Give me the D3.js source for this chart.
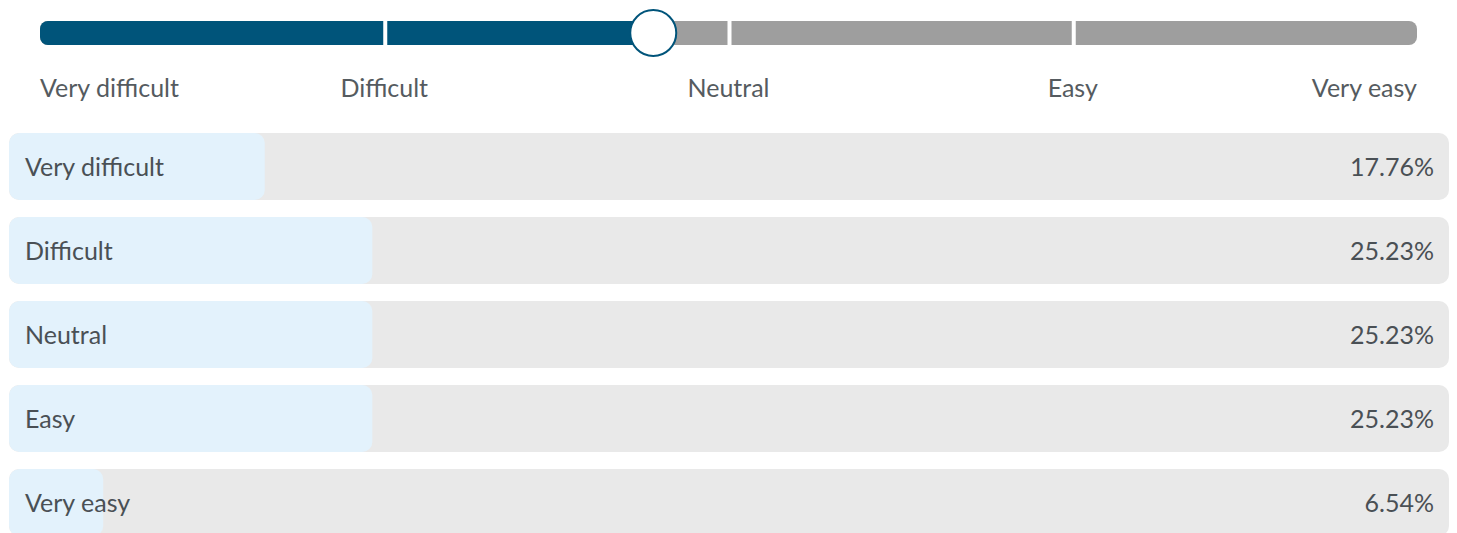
<!DOCTYPE html>
<html>
<head>
<meta charset="utf-8">
<script src="https://cdn.jsdelivr.net/npm/d3@7"></script>
<style>
  body { margin: 0; background: #fff; }
  svg { display: block; font-family: Lato, "Open Sans", sans-serif; }
</style>
</head>
<body>
<div id="chart"></div>
<script>
const width = 1457;
const height = 533;

// answers and share of responses
const categories = ["Very difficult", "Difficult", "Neutral", "Easy", "Very easy"];
const scores = [1, 2, 3, 4, 5];
const percents = [17.76, 25.23, 25.23, 25.23, 6.54];

// mean score for the slider knob
const meanScore = d3.sum(scores, (s, i) => s * percents[i]) / d3.sum(percents);

const svg = d3.select("#chart")
  .append("svg")
  .attr("width", width)
  .attr("height", height);

// slider
const x = d3.scaleLinear().domain([1, 5]).range([40, 1417]);
const trackY = 21, trackH = 24;

svg.append("rect")
  .attr("x", x(1)).attr("y", trackY)
  .attr("width", x(5) - x(1)).attr("height", trackH)
  .attr("rx", 8)
  .attr("fill", "#9e9e9e");

svg.append("clipPath").attr("id", "trackclip")
  .append("rect")
  .attr("x", x(1)).attr("y", trackY)
  .attr("width", x(5) - x(1)).attr("height", trackH)
  .attr("rx", 8);

svg.append("rect")
  .attr("clip-path", "url(#trackclip)")
  .attr("x", x(1)).attr("y", trackY)
  .attr("width", x(meanScore) - x(1)).attr("height", trackH)
  .attr("fill", "#00547a");

// white separators between segments
svg.selectAll(".sep")
  .data(scores.slice(1, 4))
  .enter().append("rect")
  .attr("class", "sep")
  .attr("x", d => x(d) - 1)
  .attr("y", trackY)
  .attr("width", 4)
  .attr("height", trackH)
  .attr("fill", "#fff");

svg.append("circle")
  .attr("cx", x(meanScore) + 2)
  .attr("cy", trackY + trackH / 2)
  .attr("r", 23)
  .attr("fill", "#fff")
  .attr("stroke", "#00547a")
  .attr("stroke-width", 2);

svg.selectAll(".tick-label")
  .data(categories)
  .enter().append("text")
  .attr("class", "tick-label")
  .attr("x", (d, i) => x(scores[i]))
  .attr("y", 97)
  .attr("text-anchor", (d, i) => i == 0 ? "start" : i == 4 ? "end" : "middle")
  .attr("font-size", 25)
  .attr("fill", "#555b60")
  .text(d => d);

// result rows
const y = d3.scaleBand().domain(categories)
  .range([133, 133 + 84 * 4 + 67])
  .paddingInner(17 / 84).paddingOuter(0);
const w = d3.scaleLinear().domain([0, 100]).range([0, 1440]);
const left = 9;

const rows = svg.selectAll(".row")
  .data(categories)
  .enter().append("g")
  .attr("class", "row")
  .attr("transform", d => `translate(${left},${y(d)})`);

rows.append("clipPath")
  .attr("id", (d, i) => "rowclip" + i)
  .append("rect")
  .attr("width", w(100)).attr("height", y.bandwidth()).attr("rx", 10);

rows.append("rect")
  .attr("width", w(100))
  .attr("height", y.bandwidth())
  .attr("rx", 10)
  .attr("fill", "#e9e9e9");

rows.append("rect")
  .attr("clip-path", (d, i) => `url(#rowclip${i})`)
  .attr("width", (d, i) => w(percents[i]))
  .attr("height", y.bandwidth())
  .attr("rx", 10)
  .attr("fill", "#e3f2fc");

rows.append("text")
  .attr("x", 16)
  .attr("y", 43)
  .attr("font-size", 25)
  .attr("fill", "#4a5055")
  .text(d => d);

rows.append("text")
  .attr("x", w(100) - 15)
  .attr("y", 43)
  .attr("text-anchor", "end")
  .attr("font-size", 25)
  .attr("fill", "#4a5055")
  .text((d, i) => percents[i].toFixed(2) + "%");
</script>
</body>
</html>
